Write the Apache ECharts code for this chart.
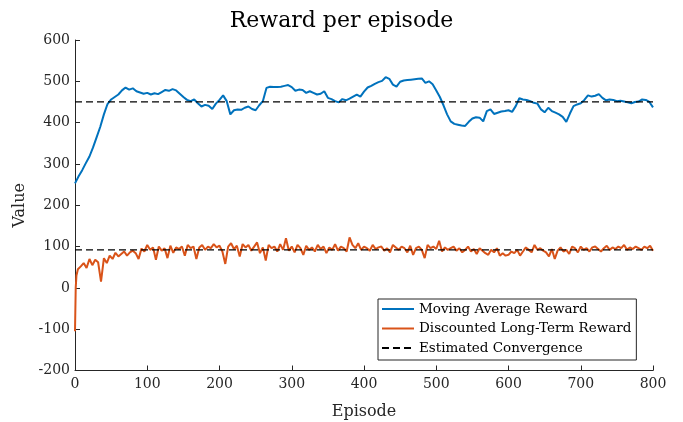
<!DOCTYPE html>
<html>
<head>
<meta charset="utf-8">
<script src="https://cdn.jsdelivr.net/npm/echarts@6/dist/echarts.min.js"></script>
<style>
html,body{margin:0;padding:0;background:#fff;}
#chart{width:683px;height:422px;}
</style>
</head>
<body>
<div id="chart"></div>
<script>
// ---- Data ----
const titleText = 'Reward per episode';
const xAxisName = 'Episode';
const yAxisName = 'Value';
const seriesNames = ['Moving Average Reward', 'Discounted Long-Term Reward', 'Estimated Convergence'];

// Moving average reward, every 5 episodes from 0 to 800
const maStep = 5;
const maValues = [
  253,270,285,302,318,340,365,390,420,445,
  456,462,468,478,485,480,483,476,473,470,
  472,468,471,469,474,479,477,481,478,470,
  462,455,452,456,447,439,443,441,433,446,
  455,466,452,420,430,432,431,436,439,433,
  430,442,452,484,487,486,486,487,489,491,
  486,477,480,479,472,476,472,468,470,476,
  460,457,452,449,457,454,458,463,468,463,
  475,485,489,494,498,501,510,506,492,487,
  499,502,503,504,505,506,507,496,500,493,
  478,462,442,420,403,397,395,393,392,402,
  410,413,412,403,428,432,421,424,427,428,
  430,426,440,459,456,455,452,448,446,432,
  425,436,428,424,420,414,402,422,440,444,
  447,455,466,463,465,469,460,454,456,455,
  452,453,451,449,447,450,451,456,455,450,
  437
];

// Discounted long-term reward: episodes 0,1,2 then every 4 episodes to 800
const drStartEpisodes = [0, 1, 2];
const drStartValues = [-105, 0, 30];
const drStep = 4;
const drValues = [
  45,52,60,48,70,55,68,62,15,72,
  60,78,70,85,76,82,88,78,86,90,
  84,70,95,88,104,92,98,68,100,90,
  96,72,102,85,98,94,100,78,104,96,
  100,70,98,104,92,100,96,106,98,102,
  88,58,100,108,94,102,76,106,98,104,
  90,100,110,84,98,66,104,96,100,88,
  106,92,120,90,100,86,104,96,80,102,
  92,98,88,104,94,100,84,98,92,106,
  90,100,96,88,122,104,96,108,92,100,
  96,90,104,94,98,100,90,96,86,104,
  98,92,100,96,86,102,80,96,100,92,
  72,104,96,100,94,114,88,98,92,96,
  100,90,96,86,92,100,88,94,82,96,
  90,84,80,92,86,96,78,84,78,80,
  88,84,92,78,88,98,92,86,104,92,
  96,90,86,76,94,70,90,98,88,92,
  82,100,96,86,100,92,96,88,98,100,
  94,88,96,102,92,98,94,100,96,104,
  92,98,94,100,96,92,100,96,102,90
];

// Estimated convergence levels (horizontal dashed lines)
const convergenceLevels = [450, 92];
const episodeRange = [0, 800];

const xTicks = [0,100,200,300,400,500,600,700,800];
const yTicks = [-200,-100,0,100,200,300,400,500,600];

// ---- Build series data ----
const maData = maValues.map((v, i) => [i * maStep, v]);
const drData = drStartEpisodes.map((e, i) => [e, drStartValues[i]])
  .concat(drValues.map((v, i) => [(i + 1) * drStep, v]));

const FONT = 'DejaVu Serif';
const AX = '#262626';
const BLUE = '#0072BD';
const ORANGE = '#D95319';

const chart = echarts.init(document.getElementById('chart'), null, {renderer: 'canvas'});

const convSeries = convergenceLevels.map(level => ({
  name: seriesNames[2],
  type: 'line',
  data: [[episodeRange[0], level], [episodeRange[1], level]],
  symbol: 'none',
  silent: true,
  itemStyle: {color: '#000'},
  lineStyle: {color: '#000', width: 1.3, type: [7, 4]},
  z: 5
}));

chart.setOption({
  animation: false,
  backgroundColor: '#fff',
  title: {
    text: titleText,
    left: 'center',
    top: 5,
    textStyle: {fontFamily: FONT, fontSize: 22, fontWeight: 'normal', color: '#000'}
  },
  grid: {left: 75, right: 30, top: 40, bottom: 51.5, containLabel: false, outerBoundsMode: 'none'},
  xAxis: {
    type: 'value',
    min: xTicks[0], max: xTicks[xTicks.length - 1], interval: 100,
    name: xAxisName, nameLocation: 'middle', nameGap: 33,
    nameTextStyle: {fontFamily: FONT, fontSize: 16, color: AX},
    axisLine: {onZero: false, lineStyle: {color: AX, width: 1}},
    axisTick: {inside: true, length: 5, lineStyle: {color: AX}},
    axisLabel: {fontFamily: FONT, fontSize: 14, color: AX, margin: 7},
    splitLine: {show: false}
  },
  yAxis: {
    type: 'value',
    min: yTicks[0], max: yTicks[yTicks.length - 1], interval: 100,
    name: yAxisName, nameLocation: 'middle', nameGap: 47,
    nameTextStyle: {fontFamily: FONT, fontSize: 16, color: AX},
    axisLine: {show: true, onZero: false, lineStyle: {color: AX, width: 1}},
    axisTick: {show: true, inside: true, length: 5, lineStyle: {color: AX}},
    axisLabel: {fontFamily: FONT, fontSize: 14, color: AX, margin: 5},
    splitLine: {show: false}
  },
  legend: {
    orient: 'vertical',
    left: 378, top: 299,
    itemWidth: 32, itemHeight: 14, itemGap: 5.5,
    padding: [3, 5, 5, 3],
    borderColor: AX, borderWidth: 1,
    backgroundColor: '#fff',
    itemStyle: {opacity: 0},
    textStyle: {fontFamily: FONT, fontSize: 13.5, color: '#000'},
    data: [seriesNames[0], seriesNames[1], seriesNames[2]]
  },
  series: [
    {
      name: seriesNames[0], type: 'line', data: maData, symbol: 'none',
      lineStyle: {color: BLUE, width: 2}, itemStyle: {color: BLUE}, z: 3
    },
    {
      name: seriesNames[1], type: 'line', data: drData, symbol: 'none',
      lineStyle: {color: ORANGE, width: 2}, itemStyle: {color: ORANGE}, z: 3
    }
  ].concat(convSeries)
});
</script>
</body>
</html>
